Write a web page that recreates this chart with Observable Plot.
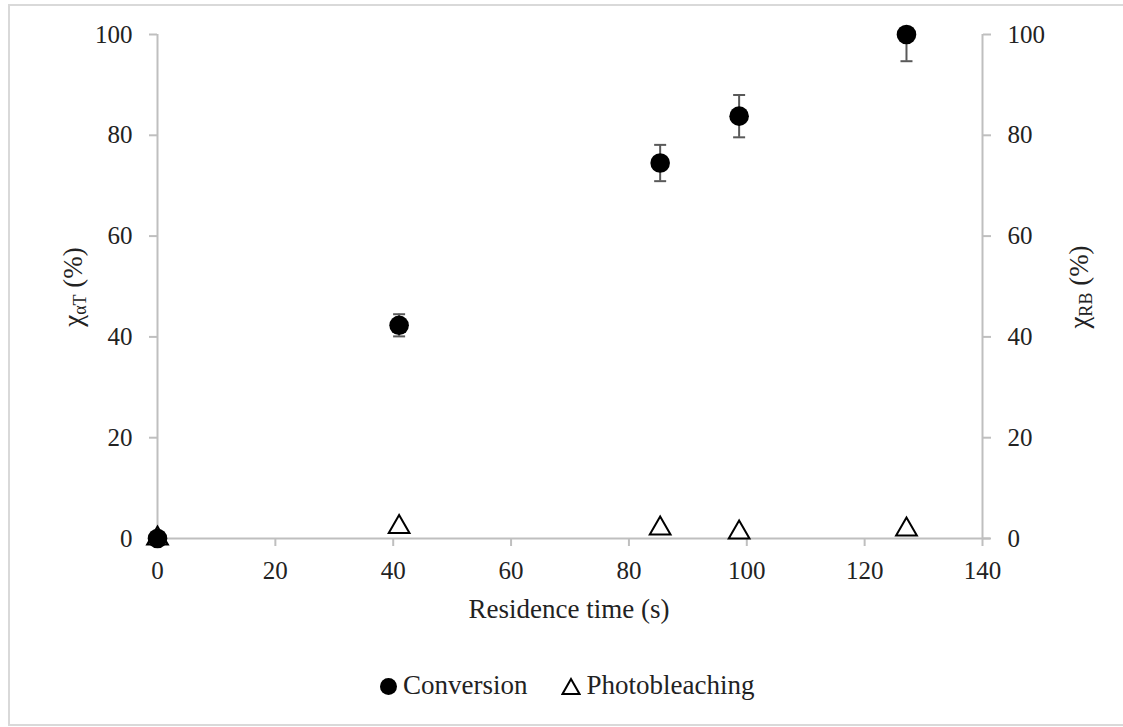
<!DOCTYPE html>
<html>
<head>
<meta charset="utf-8">
<script src="https://cdn.jsdelivr.net/npm/d3@7"></script>
<script src="https://cdn.jsdelivr.net/npm/@observablehq/plot@0.6"></script>
<style>
  html, body { margin: 0; padding: 0; background: #fff; }
  #wrap { position: relative; width: 1123px; height: 727px; overflow: hidden; font-family: "Liberation Serif", "DejaVu Serif", serif; }
  #frame { position: absolute; left: 8px; top: 4px; width: 1117px; height: 722px; box-sizing: border-box; border: 2px solid #d9d9d9; }
  #chart { position: absolute; left: 0; top: 0; }
  #legend { position: absolute; left: 379px; top: 668px; font-size: 27px; color: #222; white-space: nowrap; line-height: 34px; }
  #legend svg { vertical-align: -2px; }
</style>
</head>
<body>
<div id="wrap">
  <div id="frame"></div>
  <div id="chart"></div>
  <div id="legend"><svg width="19" height="19"><circle cx="9.5" cy="9.5" r="8.5" fill="#000"/></svg><span style="margin-left:5px">Conversion</span><svg width="20" height="19" style="margin-left:33px"><path d="M10,2 L18.5,17 L1.5,17 Z" fill="#fff" stroke="#000" stroke-width="2"/></svg><span style="margin-left:6px">Photobleaching</span></div>
</div>
<script>
// Data
const residenceTime = [0, 41, 85.3, 98.7, 127.1];
const conversion = [0, 42.3, 74.5, 83.8, 100];
const conversionErr = [0, 2.2, 3.6, 4.2, 5.3];
const photobleaching = [0, 2.3, 2.0, 1.2, 1.8];
const xTicks = [0, 20, 40, 60, 80, 100, 120, 140];
const yTicks = [0, 20, 40, 60, 80, 100];

const conv = residenceTime.map((x, i) => ({x, y: conversion[i], lo: conversion[i] - conversionErr[i], hi: conversion[i] + conversionErr[i]}));
const photo = residenceTime.map((x, i) => ({x, y: photobleaching[i]}));

const capSymbol = {
  draw(ctx, size) {
    const r = Math.sqrt(size / Math.PI);
    ctx.moveTo(-r, 0);
    ctx.lineTo(r, 0);
  }
};

const FONT = "'Liberation Serif', 'DejaVu Serif', serif";
const axisStyle = {stroke: "#bfbfbf", strokeWidth: 2, fill: "#222", fontSize: 25, label: null, tickSize: 8};

const plot = Plot.plot({
  width: 1123,
  height: 640,
  marginLeft: 157,
  marginRight: 141,
  marginTop: 34,
  marginBottom: 102,
  style: {fontFamily: FONT, fontSize: "25px", background: "transparent"},
  x: {domain: [0, 140]},
  y: {domain: [0, 100]},
  marks: [
    Plot.ruleX([0, 140], {stroke: "#bfbfbf", strokeWidth: 2}),
    Plot.ruleY([0], {stroke: "#bfbfbf", strokeWidth: 2, insetRight: -8}),
    Plot.axisX({...axisStyle, ticks: xTicks, tickPadding: 15}),
    Plot.axisY({...axisStyle, anchor: "left", ticks: yTicks, tickPadding: 17}),
    Plot.axisY({...axisStyle, anchor: "right", ticks: yTicks, tickPadding: 17}),
    Plot.ruleX(conv, {x: "x", y1: "lo", y2: "hi", stroke: "#595959", strokeWidth: 2, clip: true}),
    Plot.dot(conv, {x: "x", y: "lo", symbol: capSymbol, r: 6, stroke: "#595959", strokeWidth: 2, clip: true}),
    Plot.dot(conv, {x: "x", y: "hi", symbol: capSymbol, r: 6, stroke: "#595959", strokeWidth: 2, clip: true}),
    Plot.dot(photo, {x: "x", y: "y", symbol: "triangle", r: 7.7, stroke: "#000", strokeWidth: 2, fill: "#fff"}),
    Plot.dot(conv, {x: "x", y: "y", r: 9.8, fill: "#000", stroke: "none"})
  ]
});

document.getElementById("chart").appendChild(plot);

// Axis titles with subscripts
const svg = d3.select(plot);
svg.append("text")
  .attr("x", 569).attr("y", 612)
  .attr("text-anchor", "middle").attr("dominant-baseline", "middle")
  .attr("fill", "#222").attr("font-size", 27).attr("font-family", FONT)
  .text("Residence time (s)");

function yTitle(cx, cy, sub) {
  const t = svg.append("text")
    .attr("transform", `translate(${cx},${cy}) rotate(-90)`)
    .attr("text-anchor", "middle").attr("dominant-baseline", "middle")
    .attr("fill", "#222").attr("font-size", 27).attr("font-family", FONT);
  t.append("tspan").text("χ");
  t.append("tspan").attr("font-size", 18).attr("dy", 6).text(sub);
  t.append("tspan").attr("dy", -6).text(" (%)");
}
yTitle(76, 287, "αT");
yTitle(1082, 287, "RB");
</script>
</body>
</html>
